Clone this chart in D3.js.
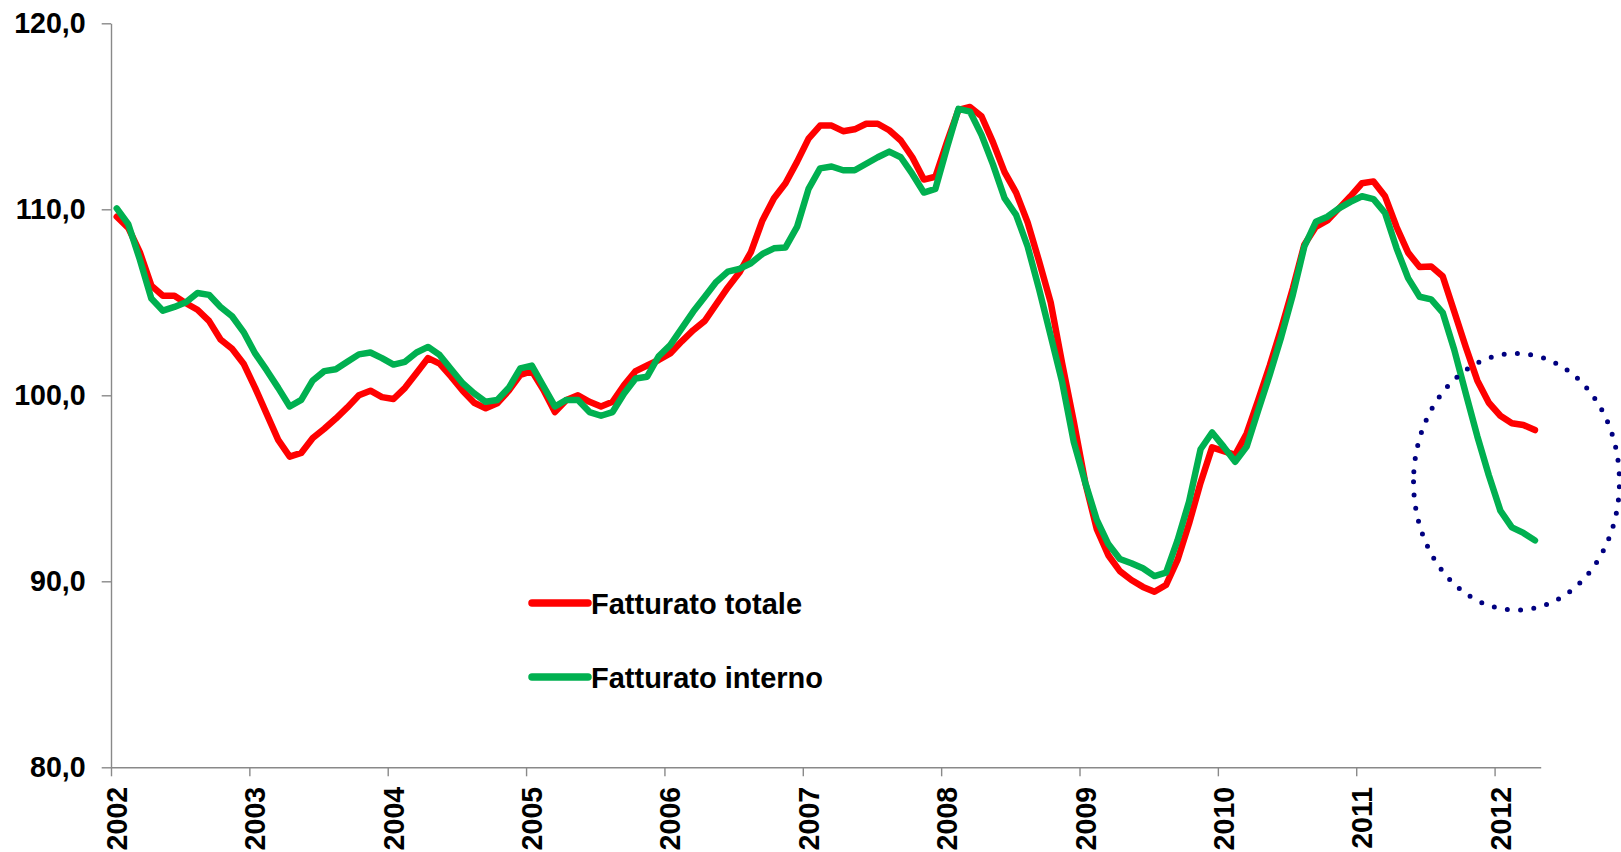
<!DOCTYPE html>
<html>
<head>
<meta charset="utf-8">
<script src="https://cdn.jsdelivr.net/npm/d3@7/dist/d3.min.js"></script>
<style>
  html, body { margin: 0; padding: 0; background: #fff; }
  svg { display: block; }
  text { font-family: Arial, "Liberation Sans", sans-serif; font-weight: bold; fill: #000; }
</style>
</head>
<body>
<div id="chart"></div>
<script>
// Monthly series, Jan 2002 - Apr 2012
const years = ['2002', '2003', '2004', '2005', '2006', '2007', '2008', '2009', '2010', '2011', '2012'];
const yTicks = [80, 90, 100, 110, 120];

const totale = [
    109.6, 109.0, 107.7, 105.9, 105.35, 105.35, 104.95, 104.6, 104.0, 103.0, 102.5, 101.7,
    100.4, 99.0, 97.6, 96.7, 96.9, 97.7, 98.2, 98.75, 99.35, 100.0, 100.25, 99.9,
    99.8, 100.4, 101.2, 102.0, 101.7, 101.0, 100.25, 99.6, 99.3, 99.57, 100.25, 101.1,
    101.3, 100.3, 99.1, 99.75, 100.0, 99.65, 99.4, 99.65, 100.55, 101.3, 101.6, 101.9,
    102.25, 102.9, 103.5, 104.0, 104.9, 105.8, 106.6, 107.7, 109.4, 110.6, 111.4, 112.55,
    113.8, 114.5, 114.5, 114.2, 114.3, 114.6, 114.6, 114.25, 113.7, 112.8, 111.6, 111.75,
    113.6, 115.35, 115.5, 115.0, 113.6, 112.0, 110.9, 109.3, 107.2, 105.0, 101.7, 98.6,
    95.3, 92.8, 91.4, 90.55, 90.07, 89.7, 89.44, 89.8, 91.15, 93.1, 95.3, 97.2,
    97.0, 96.8, 97.95, 99.75, 101.6, 103.6, 105.75, 108.1, 109.06, 109.4, 110.05, 110.7,
    111.4, 111.5, 110.7, 109.05, 107.67, 106.9, 106.93, 106.4, 104.5, 102.6, 100.8, 99.6,
    98.9, 98.5, 98.4, 98.13
];

const interno = [
    110.05, 109.2, 107.3, 105.2, 104.55, 104.75, 105.0, 105.5, 105.4, 104.75, 104.25, 103.4,
    102.25, 101.35, 100.4, 99.4, 99.75, 100.8, 101.3, 101.4, 101.8, 102.2, 102.3, 102.0,
    101.65, 101.8, 102.3, 102.6, 102.17, 101.4, 100.65, 100.1, 99.65, 99.75, 100.4, 101.45,
    101.6, 100.5, 99.4, 99.75, 99.75, 99.1, 98.9, 99.1, 100.1, 100.9, 101.0, 102.1,
    102.7, 103.6, 104.5, 105.3, 106.1, 106.65, 106.8, 107.1, 107.6, 107.9, 107.95, 109.05,
    111.1, 112.2, 112.3, 112.1, 112.1, 112.45, 112.8, 113.1, 112.8, 111.9, 110.9, 111.1,
    113.3, 115.4, 115.25, 114.0, 112.4, 110.6, 109.7, 108.0, 105.7, 103.2, 100.7, 97.5,
    95.3, 93.3, 92.0, 91.2, 90.97, 90.7, 90.28, 90.46, 92.2, 94.28, 97.1, 98.0,
    97.24, 96.43, 97.24, 99.2, 101.1, 103.15, 105.4, 108.0, 109.33, 109.6, 110.05, 110.4,
    110.7, 110.55, 109.8, 107.9, 106.3, 105.3, 105.16, 104.45, 102.45, 100.1, 97.8, 95.7,
    93.8, 92.9, 92.6, 92.2
];

const seriesNames = ['Fatturato totale', 'Fatturato interno'];
const seriesColors = ['#ff0000', '#00b050'];

// dotted ellipse around the last months (in month index / value units)
const highlight = { month: 121.9, value: 95.35, monthRadius: 8.93, valueRadius: 6.9 };

const width = 1621;
const height = 852;
const plot = { left: 111, right: 1540.7, top: 23.3, bottom: 767.3 };
const axisColor = '#898989';

const svg = d3.select('#chart').append('svg')
    .attr('width', width)
    .attr('height', height)
    .attr('viewBox', [0, 0, width, height]);

// x is a month index scale, points sit in the middle of each month slot
const x = d3.scaleLinear()
    .domain([0, totale.length])
    .range([plot.left, plot.right]);

const y = d3.scaleLinear()
    .domain([80, 120])
    .range([plot.bottom, plot.top]);

// Y axis
const yAxis = svg.append('g')
    .attr('transform', `translate(${plot.left},0)`)
    .call(d3.axisLeft(y)
        .tickValues(yTicks)
        .tickSize(9.3)
        .tickSizeOuter(0)
        .tickPadding(16)
        .tickFormat(d => d.toFixed(1).replace('.', ',')));

yAxis.selectAll('path, line')
    .attr('stroke', axisColor)
    .attr('stroke-width', 1.4);

yAxis.selectAll('text')
    .style('font-size', '28.6px')
    .attr('fill', '#000');

// X axis: ticks between years, labels on January
const xAxis = svg.append('g')
    .attr('transform', `translate(0,${plot.bottom})`)
    .call(d3.axisBottom(x)
        .tickValues(years.map((yr, i) => i * 12))
        .tickSize(9)
        .tickSizeOuter(0)
        .tickFormat(''));

xAxis.selectAll('path, line')
    .attr('stroke', axisColor)
    .attr('stroke-width', 1.4);

svg.append('g')
    .selectAll('text')
    .data(years)
    .join('text')
    .attr('transform', (d, i) => `translate(${x(i * 12 + 0.5)},${plot.bottom + 19.5}) rotate(-90)`)
    .attr('text-anchor', 'end')
    .attr('dy', '0.36em')
    .style('font-size', '28.6px')
    .text(d => d);

// Lines
const line = d3.line()
    .x((d, i) => x(i + 0.5))
    .y(d => y(d));

[totale, interno].forEach((values, k) => {
    svg.append('path')
        .datum(values)
        .attr('fill', 'none')
        .attr('stroke', seriesColors[k])
        .attr('stroke-width', 6.5)
        .attr('stroke-linejoin', 'round')
        .attr('stroke-linecap', 'round')
        .attr('d', line);
});

// Highlight ellipse
const cx = x(highlight.month);
const cy = y(highlight.value);
const rx = x(highlight.month + highlight.monthRadius) - cx;
const ry = cy - y(highlight.value + highlight.valueRadius);

svg.append('path')
    .attr('fill', 'none')
    .attr('stroke', '#000080')
    .attr('stroke-width', 5)
    .attr('stroke-linecap', 'round')
    .attr('stroke-dasharray', '0 13.3')
    .attr('d', `M${cx - rx},${cy} A${rx},${ry} 0 1 0 ${cx + rx},${cy} A${rx},${ry} 0 1 0 ${cx - rx},${cy}`);

// Legend
const legend = svg.append('g')
    .attr('transform', 'translate(532,603)');

seriesNames.forEach((name, k) => {
    const row = legend.append('g')
        .attr('transform', `translate(0,${k * 74})`);

    row.append('line')
        .attr('x1', 0)
        .attr('x2', 56)
        .attr('y1', 0)
        .attr('y2', 0)
        .attr('stroke', seriesColors[k])
        .attr('stroke-width', 7.5)
        .attr('stroke-linecap', 'round');

    row.append('text')
        .attr('x', 59)
        .attr('y', 10.5)
        .style('font-size', '29px')
        .text(name);
});
</script>
</body>
</html>
